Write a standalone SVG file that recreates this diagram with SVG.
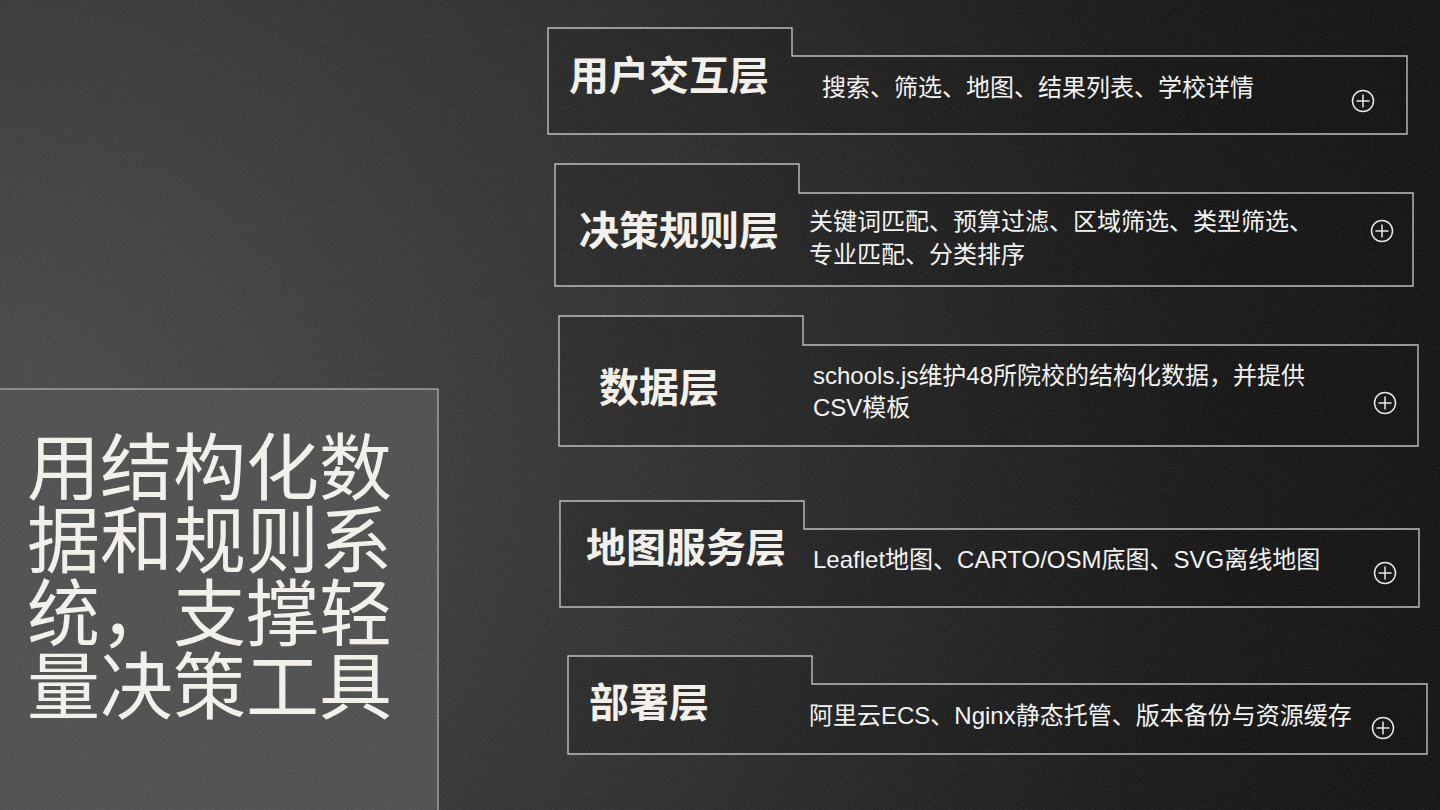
<svg xmlns="http://www.w3.org/2000/svg" width="1440" height="810" viewBox="0 0 1440 810">
  <defs>
    <radialGradient id="bg" cx="0" cy="470" r="1500" gradientUnits="userSpaceOnUse">
      <stop offset="0" stop-color="#444444"/>
      <stop offset="0.45" stop-color="#272727"/>
      <stop offset="0.8" stop-color="#0e0e0e"/>
      <stop offset="1" stop-color="#080808"/>
    </radialGradient>
    <filter id="noise" x="0" y="0" width="100%" height="100%">
      <feTurbulence type="fractalNoise" baseFrequency="0.95" numOctaves="2" seed="3" result="n"/>
      <feColorMatrix type="matrix" values="0 0 0 0 1  0 0 0 0 1  0 0 0 0 1  0 0 0 0.14 0"/>
    </filter>
    <style>
      .box { fill: rgba(0,0,0,0.18); stroke: #b9b9b9; stroke-width: 1.4; }
      .ttl { font-family: "Noto Sans CJK SC", "Liberation Sans", sans-serif; font-weight: 700; font-size: 40px; fill: #f2efe9; }
      .desc { font-family: "Liberation Sans", "Noto Sans CJK SC", sans-serif; font-size: 24px; fill: #f2f2f2; }
      .btn circle { fill: none; stroke: #e6e6e6; stroke-width: 1.5; }
      .btn path { stroke: #e6e6e6; stroke-width: 1.5; fill: none; }
      .hero { font-family: "Noto Sans CJK SC", "Liberation Sans", sans-serif; font-size: 73px; fill: #f2efe9; }
    </style>
  </defs>

  <rect width="1440" height="810" fill="url(#bg)"/>

  <g id="summary">
    <rect x="-2" y="389" width="440" height="430" fill="#474747" stroke="#b0b0b0" stroke-width="1.2"/>
    <text class="hero">
      <tspan x="27" y="494">用结构化数</tspan>
      <tspan x="27" y="567">据和规则系</tspan>
      <tspan x="27" y="640">统，支撑轻</tspan>
      <tspan x="27" y="713">量决策工具</tspan>
    </text>
  </g>

  <g id="connectors"></g>

  <g id="layer-ui">
    <path class="box" d="M548,28 H792 V56 H1407 V134 H548 Z"/>
    <text class="ttl" x="569" y="90">用户交互层</text>
    <text class="desc" x="822" y="96">搜索、筛选、地图、结果列表、学校详情</text>
    <g class="btn"><circle cx="1363" cy="101" r="10.5"/><path d="M1356.5,101 H1369.5 M1363,94.5 V107.5"/></g>
  </g>

  <g id="layer-rules">
    <path class="box" d="M555,164 H799 V193 H1413 V286 H555 Z"/>
    <text class="ttl" x="579" y="245">决策规则层</text>
    <text class="desc" x="809" y="230">关键词匹配、预算过滤、区域筛选、类型筛选、</text>
    <text class="desc" x="809" y="263">专业匹配、分类排序</text>
    <g class="btn"><circle cx="1382" cy="231" r="10.5"/><path d="M1375.5,231 H1388.5 M1382,224.5 V237.5"/></g>
  </g>

  <g id="layer-data">
    <path class="box" d="M559,316 H803 V345 H1418 V446 H559 Z"/>
    <text class="ttl" x="599" y="402">数据层</text>
    <text class="desc" x="813" y="384">schools.js维护48所院校的结构化数据，并提供</text>
    <text class="desc" x="813" y="416">CSV模板</text>
    <g class="btn"><circle cx="1385" cy="403" r="10.5"/><path d="M1378.5,403 H1391.5 M1385,396.5 V409.5"/></g>
  </g>

  <g id="layer-map">
    <path class="box" d="M560,501 H804 V529 H1419 V607 H560 Z"/>
    <text class="ttl" x="586" y="562">地图服务层</text>
    <text class="desc" x="813" y="568">Leaflet地图、CARTO/OSM底图、SVG离线地图</text>
    <g class="btn"><circle cx="1385" cy="573" r="10.5"/><path d="M1378.5,573 H1391.5 M1385,566.5 V579.5"/></g>
  </g>

  <g id="layer-deploy">
    <path class="box" d="M568,656 H812 V684 H1427 V754 H568 Z"/>
    <text class="ttl" x="589" y="717">部署层</text>
    <text class="desc" x="809" y="724">阿里云ECS、Nginx静态托管、版本备份与资源缓存</text>
    <g class="btn"><circle cx="1383" cy="728" r="10.5"/><path d="M1376.5,728 H1389.5 M1383,721.5 V734.5"/></g>
  </g>

  <rect width="1440" height="810" filter="url(#noise)" pointer-events="none"/>
</svg>
